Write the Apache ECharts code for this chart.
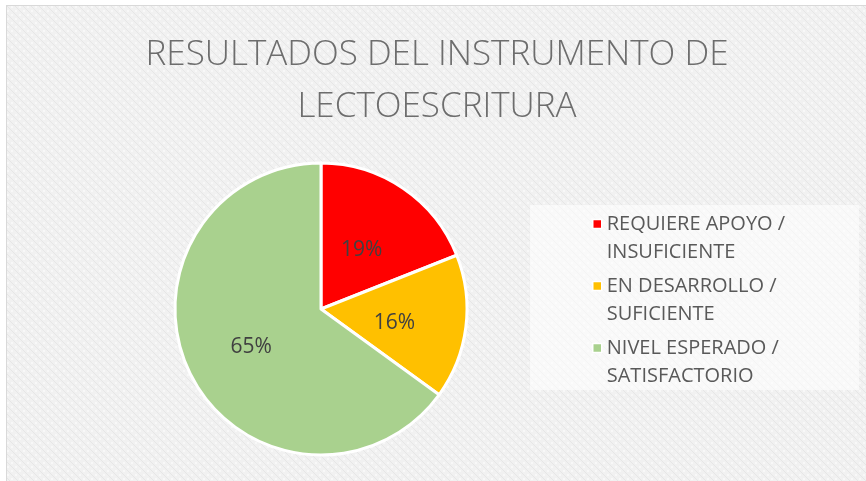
<!DOCTYPE html>
<html lang="es">
<head>
    <meta charset="UTF-8">
    <title>Resultados del instrumento de lectoescritura</title>
    <script src="https://cdn.jsdelivr.net/npm/echarts@6/dist/echarts.min.js"></script>
    <style>
        body, html {
            margin: 0;
            padding: 0;
            width: 866px;
            height: 481px;
            overflow: hidden;
            background: #fff;
        }
        /* marco del gráfico, con línea gris arriba y a la izquierda */
        #chart {
            position: absolute;
            left: 6px;
            top: 5px;
            width: 860px;
            height: 476px;
            border-left: 1px solid #d9d9d9;
            border-top: 1px solid #d9d9d9;
        }
    </style>
</head>
<body>
    <div id="chart"></div>
    <script>
        // datos del gráfico
        var categorias = [
            'REQUIERE APOYO /\nINSUFICIENTE',
            'EN DESARROLLO /\nSUFICIENTE',
            'NIVEL ESPERADO /\nSATISFACTORIO'
        ];
        var porcentajes = [19, 16, 65];
        var colores = ['#ff0000', '#ffc000', '#a9d18e'];

        // fondo con textura suave (estilo Excel)
        var tex = document.createElement('canvas');
        tex.width = 8;
        tex.height = 8;
        var ctx = tex.getContext('2d');
        ctx.fillStyle = '#f1f1f1';
        ctx.fillRect(0, 0, 8, 8);
        ctx.fillStyle = '#e6e6e6';
        for (var i = 0; i < 8; i++) {
            ctx.fillRect(i, i, 1, 1);
        }
        ctx.fillStyle = '#f8f8f8';
        ctx.fillRect(4, 0, 2, 2);
        ctx.fillRect(0, 4, 2, 2);

        var L = 28; // alto de línea de la leyenda

        var option = {
            backgroundColor: { image: tex, repeat: 'repeat' },
            title: {
                text: 'RESULTADOS DEL INSTRUMENTO DE\nLECTOESCRITURA',
                left: 'center',
                top: 18,
                textStyle: {
                    fontFamily: 'Open Sans',
                    fontWeight: 300,
                    fontSize: 35,
                    lineHeight: 52,
                    color: '#6d6d6d'
                }
            },
            graphic: [{
                type: 'rect',
                shape: { x: 523, y: 199, width: 329, height: 185 },
                style: { fill: 'rgba(255,255,255,0.55)' },
                z: 0
            }],
            legend: {
                orient: 'vertical',
                left: 585,
                top: 218 - 1.5 * L,
                padding: 0,
                itemWidth: 9,
                itemHeight: 9,
                itemGap: 62 - 3 * L,
                icon: 'rect',
                itemStyle: { borderColor: '#ffffff', borderWidth: 1.5 },
                data: categorias,
                // línea en blanco delante para que el icono quede en la primera línea
                formatter: function (nombre) { return '\n' + nombre; },
                textStyle: {
                    fontFamily: 'Open Sans',
                    fontSize: 20,
                    lineHeight: L,
                    color: '#595959'
                }
            },
            series: [{
                type: 'pie',
                center: [314, 303],
                radius: 146,
                startAngle: 90,
                clockwise: true,
                avoidLabelOverlap: false,
                itemStyle: {
                    borderColor: '#ffffff',
                    borderWidth: 3
                },
                label: {
                    position: 'inside',
                    formatter: '{c}%',
                    fontFamily: 'Open Sans',
                    fontSize: 21,
                    color: '#404040',
                    offset: [-2, 4]
                },
                labelLine: { show: false },
                emphasis: { scale: false },
                data: categorias.map(function (nombre, k) {
                    return {
                        name: nombre,
                        value: porcentajes[k],
                        itemStyle: { color: colores[k] }
                    };
                })
            }]
        };

        var chart = echarts.init(document.getElementById('chart'));
        chart.setOption(option);
    </script>
</body>
</html>
